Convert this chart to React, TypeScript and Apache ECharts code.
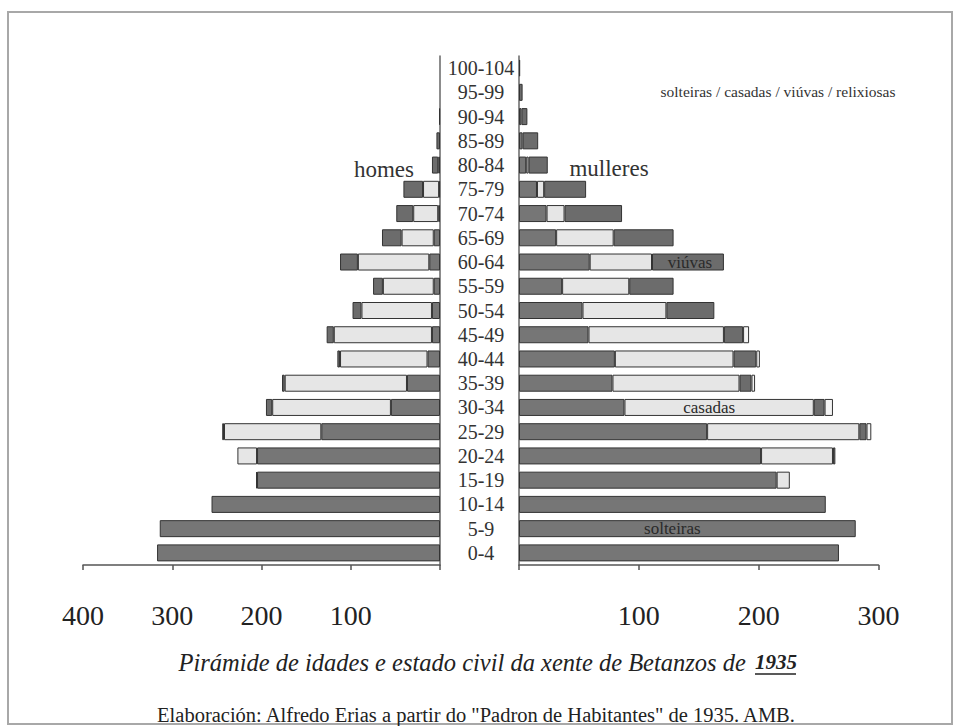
import React, { useEffect, useRef } from "react";
import * as echarts from "echarts";

const ages = ["0-4", "5-9", "10-14", "15-19", "20-24", "25-29", "30-34", "35-39", "40-44", "45-49", "50-54", "55-59", "60-64", "65-69", "70-74", "75-79", "80-84", "85-89", "90-94", "95-99", "100-104"];

// homes (left side)
const homesSolteiros = [317, 314, 256, 205, 205, 133, 55, 37, 14, 9, 9, 7, 12, 7, 2, 1, 0, 0, 0, 0, 0];
const homesCasados = [0, 0, 0, 1, 22, 109, 133, 137, 98, 110, 79, 57, 80, 36, 28, 18, 2, 0, 0, 0, 0];
const homesViuvos = [0, 0, 0, 0, 0, 2, 7, 3, 3, 8, 10, 11, 20, 22, 19, 22, 7, 4, 1, 0, 0];

// mulleres (right side)
const mullSolteiras = [267, 281, 256, 215, 202, 157, 88, 78, 80, 58, 53, 36, 59, 31, 23, 15, 6, 3, 2, 0, 0];
const mullCasadas = [0, 0, 0, 11, 60, 127, 158, 106, 99, 113, 70, 56, 52, 48, 15, 6, 2, 0, 0, 0, 0];
const mullViuvas = [0, 0, 0, 0, 2, 6, 9, 10, 19, 16, 40, 37, 60, 50, 48, 35, 16, 13, 5, 3, 1];
const mullRelixiosas = [0, 0, 0, 0, 0, 4, 7, 3, 3, 5, 0, 0, 0, 0, 0, 0, 0, 0, 0, 0, 0];

const homesTicks = [100, 200, 300, 400];
const mullTicks = [100, 200, 300];

const SERIF = "'Liberation Serif', 'DejaVu Serif', serif";
const DARK = "#767676";
const DARK2 = "#6c6c6c";
const LIGHT = "#e6e6e6";
const WHITE = "#f4f4f4";
const EDGE = "#333";

function toData(vals: number[], labelAt?: { index: number; text: string; offset: number[] }) {
  return vals.map((v, i) => {
    const value = v === 0 ? null : v;
    if (labelAt && labelAt.index === i) {
      return {
        value,
        label: {
          show: true,
          position: "inside",
          formatter: labelAt.text,
          fontFamily: SERIF,
          fontSize: 17,
          color: "#2a2a2a",
          offset: labelAt.offset,
        },
      };
    }
    return value;
  });
}

export default function App() {
  const ref = useRef<HTMLDivElement>(null);
  useEffect(() => {
    if (!ref.current) return;
    const chart = echarts.init(ref.current, null, { renderer: "svg" });
    const barBase = {
      type: "bar",
      barWidth: 17,
      itemStyle: { borderColor: EDGE, borderWidth: 1 },
      emphasis: { disabled: true },
    };
    const axisLabelX = (ticks: number[]) => ({
      show: true,
      fontFamily: SERIF,
      fontSize: 28,
      color: "#222",
      margin: 36,
      formatter: (v: number) => (ticks.indexOf(v) >= 0 ? String(v) : ""),
    });
    const option: any = {
      animation: false,
      backgroundColor: "#fff",
      grid: [
        { left: 83, width: 357, top: 56, height: 509 },
        { left: 519, width: 359.5, top: 56, height: 509 },
      ],
      xAxis: [
        {
          gridIndex: 0,
          type: "value",
          inverse: true,
          min: 0,
          max: 400,
          interval: 100,
          axisLine: { show: true, lineStyle: { color: "#555", width: 1.5 } },
          axisTick: { show: true, length: 5, lineStyle: { color: "#555", width: 1.5 } },
          axisLabel: axisLabelX(homesTicks),
          splitLine: { show: false },
        },
        {
          gridIndex: 1,
          type: "value",
          min: 0,
          max: 300,
          interval: 100,
          axisLine: { show: true, lineStyle: { color: "#555", width: 1.5 } },
          axisTick: { show: true, length: 5, lineStyle: { color: "#555", width: 1.5 } },
          axisLabel: axisLabelX(mullTicks),
          splitLine: { show: false },
        },
      ],
      yAxis: [
        {
          gridIndex: 0,
          type: "category",
          data: ages,
          position: "right",
          axisLine: { show: true, lineStyle: { color: "#666", width: 1.5 } },
          axisTick: { show: false },
          axisLabel: { show: false },
        },
        {
          gridIndex: 1,
          type: "category",
          data: ages,
          position: "left",
          axisLine: { show: true, lineStyle: { color: "#666", width: 1.5 } },
          axisTick: { show: false },
          axisLabel: {
            show: true,
            interval: 0,
            align: "center",
            margin: 38,
            fontFamily: SERIF,
            fontSize: 20,
            color: "#333",
          },
        },
      ],
      series: [
        { ...barBase, name: "solteiros", stack: "homes", xAxisIndex: 0, yAxisIndex: 0, data: toData(homesSolteiros), itemStyle: { ...barBase.itemStyle, color: DARK } },
        { ...barBase, name: "casados", stack: "homes", xAxisIndex: 0, yAxisIndex: 0, data: toData(homesCasados), itemStyle: { ...barBase.itemStyle, color: LIGHT } },
        { ...barBase, name: "viúvos", stack: "homes", xAxisIndex: 0, yAxisIndex: 0, data: toData(homesViuvos), itemStyle: { ...barBase.itemStyle, color: DARK2 } },
        { ...barBase, name: "solteiras", stack: "mulleres", xAxisIndex: 1, yAxisIndex: 1, data: toData(mullSolteiras, { index: 1, text: "solteiras", offset: [-15, 0] }), itemStyle: { ...barBase.itemStyle, color: DARK } },
        { ...barBase, name: "casadas", stack: "mulleres", xAxisIndex: 1, yAxisIndex: 1, data: toData(mullCasadas, { index: 6, text: "casadas", offset: [-10, 0] }), itemStyle: { ...barBase.itemStyle, color: LIGHT } },
        { ...barBase, name: "viúvas", stack: "mulleres", xAxisIndex: 1, yAxisIndex: 1, data: toData(mullViuvas, { index: 12, text: "viúvas", offset: [2, 0] }), itemStyle: { ...barBase.itemStyle, color: DARK2 } },
        { ...barBase, name: "relixiosas", stack: "mulleres", xAxisIndex: 1, yAxisIndex: 1, data: toData(mullRelixiosas), itemStyle: { ...barBase.itemStyle, color: WHITE } },
      ],
      graphic: [
        {
          type: "rect",
          shape: { x: 8, y: 12, width: 944, height: 712 },
          style: { fill: "none", stroke: "#a8a8a8", lineWidth: 2 },
          silent: true,
        },
        {
          type: "text",
          x: 384,
          y: 169,
          style: { text: "homes", fontFamily: SERIF, fontSize: 23, fill: "#333", align: "center", verticalAlign: "middle" },
        },
        {
          type: "text",
          x: 609,
          y: 168,
          style: { text: "mulleres", fontFamily: SERIF, fontSize: 23, fill: "#333", align: "center", verticalAlign: "middle" },
        },
        {
          type: "text",
          x: 778,
          y: 91,
          style: { text: "solteiras / casadas / viúvas / relixiosas", fontFamily: SERIF, fontSize: 15.5, fill: "#333", align: "center", verticalAlign: "middle" },
        },
        {
          type: "text",
          x: 752,
          y: 662,
          style: { text: "Pirámide de idades e estado civil da xente de Betanzos de ", fontFamily: SERIF, fontSize: 24.5, fontStyle: "italic", fill: "#222", align: "right", verticalAlign: "middle" },
        },
        {
          type: "text",
          x: 755,
          y: 662,
          style: { text: "1935", fontFamily: SERIF, fontSize: 21, fontStyle: "italic", fontWeight: "bold", fill: "#222", align: "left", verticalAlign: "middle" },
        },
        {
          type: "line",
          shape: { x1: 755, y1: 674, x2: 796, y2: 674 },
          style: { stroke: "#222", lineWidth: 1.5 },
        },
        {
          type: "text",
          x: 476,
          y: 715,
          style: { text: "Elaboración: Alfredo Erias a partir do \"Padron de Habitantes\" de 1935. AMB.", fontFamily: SERIF, fontSize: 20.5, fill: "#222", align: "center", verticalAlign: "middle" },
        },
      ],
    };
    chart.setOption(option);
    return () => chart.dispose();
  }, []);
  return (
    <div
      ref={ref}
      style={{ position: "fixed", left: 0, top: 0, width: 955, height: 726, background: "#fff" }}
    />
  );
}
